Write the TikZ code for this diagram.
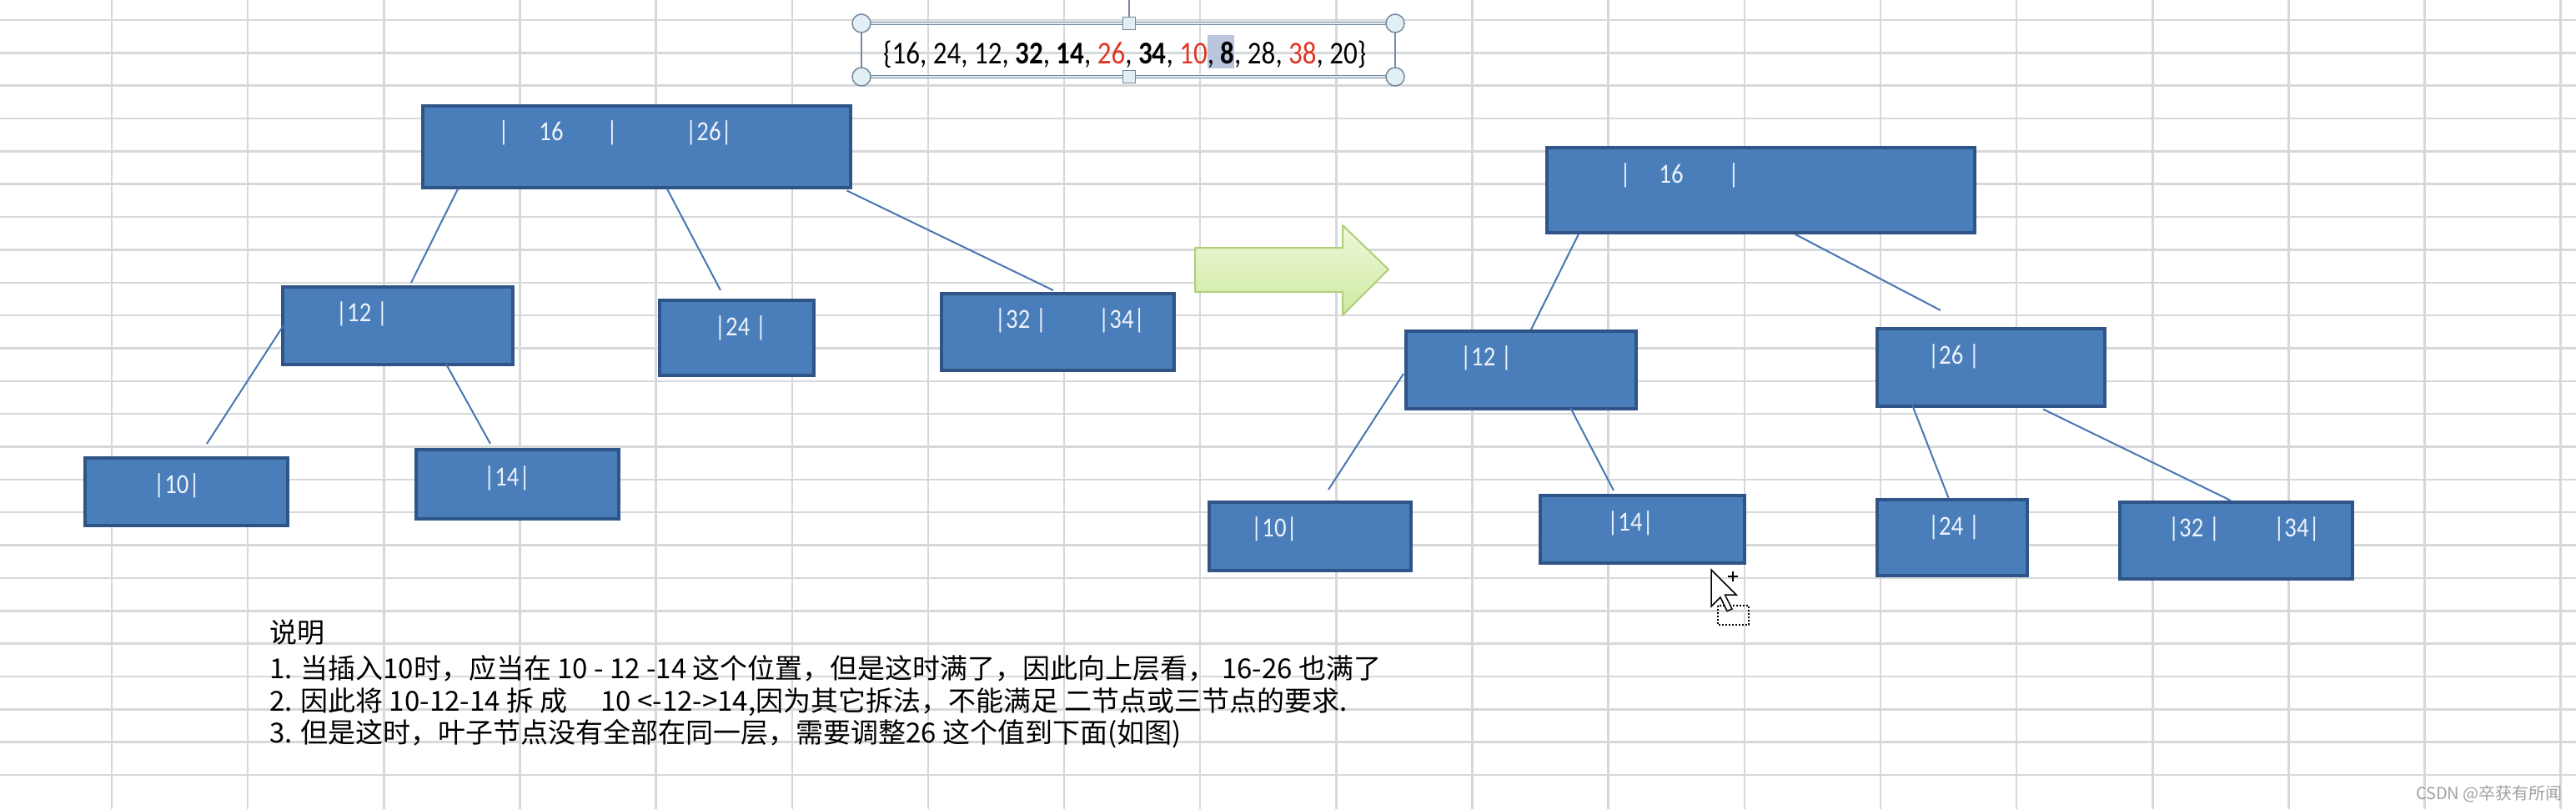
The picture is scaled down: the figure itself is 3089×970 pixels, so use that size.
\documentclass[tikz,border=0pt]{standalone}
\usepackage{fontspec}
\setmainfont{Carlito}[FakeStretch=0.87]
\newfontfamily\cjk{Noto Sans CJK SC}
\usetikzlibrary{calc}
\definecolor{gridc}{RGB}{214,216,220}
\definecolor{boxfill}{RGB}{74,126,187}
\definecolor{boxedge}{RGB}{47,84,135}
\definecolor{linkc}{RGB}{72,118,178}
\definecolor{boxtext}{RGB}{236,242,250}
\definecolor{redtxt}{RGB}{226,52,36}
\definecolor{hl}{RGB}{186,198,222}
\definecolor{framec}{RGB}{118,136,156}
\definecolor{handlec}{RGB}{226,240,246}
\definecolor{arrowtop}{RGB}{238,248,218}
\definecolor{arrowbot}{RGB}{206,233,160}
\definecolor{arrowedge}{RGB}{176,206,122}
\definecolor{wmc}{RGB}{160,160,160}
\begin{document}
\begin{tikzpicture}[x=1pt,y=-1pt,
  gridline/.style={draw=gridc, line width=2.5pt},
  treebox/.style={draw=boxedge, fill=boxfill, line width=3.5pt, inner sep=0pt, anchor=north west},
  boxlabel/.style={text=boxtext, font=\fontsize{33}{36}\selectfont, inner sep=0pt, anchor=base},
  link/.style={draw=linkc, line width=2pt},
  desc/.style={font=\cjk\fontsize{33}{38}\selectfont, inner sep=0pt, anchor=base west},
  handle/.style={draw=framec, fill=handlec, line width=1.5pt}
]
\useasboundingbox (0,0) rectangle (3089,970);
\fill[white] (0,0) rectangle (3089,970);
% spreadsheet grid
\foreach \i in {0,...,18} \draw[gridline] ({134+163.15*\i},0) -- ({134+163.15*\i},970);
\foreach \j in {-3,...,20} \draw[gridline] (0,{142+39.35*\j}) -- (3089,{142+39.35*\j});

% top text box (selected)
\draw[framec, line width=1.5pt] (1033,28) -- (1033,92) (1673,28) -- (1673,92);
\draw[framec, line width=1.2pt, double=handlec, double distance=2.5pt] (1033,28) -- (1673,28);
\draw[framec, line width=1.2pt, double=handlec, double distance=2.5pt] (1033,92) -- (1673,92);
\draw[framec, line width=1.5pt] (1354,0) -- (1354,21);
\draw[handle] (1033,28) circle[radius=11pt];
\draw[handle] (1673,28) circle[radius=11pt];
\draw[handle] (1033,92) circle[radius=11pt];
\draw[handle] (1673,92) circle[radius=11pt];
\draw[handle] (1346.5,20.5) rectangle ++(15,15);
\draw[handle] (1346.5,84.5) rectangle ++(15,15);
\node[inner sep=0pt, anchor=base west, font=\fontsize{38}{40}\selectfont] (seq) at (1059,76)
  {\{16, 24, 12, \textbf{32}, \textbf{14}, {\color{redtxt}26}, \textbf{34}, {\color{redtxt}10}{\setlength{\fboxsep}{0pt}\colorbox{hl}{\rule[-6pt]{0pt}{40pt}, \textbf{8}}}, 28, {\color{redtxt}38}, 20\}};

% left tree
\node[treebox, minimum width=513pt, minimum height=98pt] (L1) at (505,125) {};
\node[treebox, minimum width=276pt, minimum height=93pt] (L12) at (337,342) {};
\node[treebox, minimum width=185pt, minimum height=90pt] (L24) at (789,358) {};
\node[treebox, minimum width=279pt, minimum height=92pt] (L3234) at (1127,350) {};
\node[treebox, minimum width=243pt, minimum height=81pt] (L10) at (100,547) {};
\node[treebox, minimum width=243pt, minimum height=83pt] (L14) at (497,537) {};

\node[boxlabel] (l1a) at (604,168) {|};
\node[boxlabel] (l1b) at (661,168) {16};
\node[boxlabel] (l1c) at (734,168) {|};
\node[boxlabel] (l1d) at (850,168) {|26|};
\node[boxlabel] (l12t) at (434,385) {|12 |};
\node[boxlabel] (l24t) at (888,402) {|24 |};
\node[boxlabel] (l32t) at (1224,393) {|32 |};
\node[boxlabel] (l34t) at (1345,393) {|34|};
\node[boxlabel] (l10t) at (212,591) {|10|};
\node[boxlabel] (l14t) at (608,582) {|14|};

\draw[link] ($(L1.south west)+(44,0)$) -- ($(L12.north west)+(156,-3)$);
\draw[link] ($(L1.south west)+(295,0)$) -- ($(L24.north west)+(75,-10)$);
\draw[link] ($(L1.south east)+(-6,2)$) -- ($(L3234.north west)+(136,-2)$);
\draw[link] ($(L12.north west)+(3,48)$) -- ($(L10.north west)+(148,-15)$);
\draw[link] ($(L12.south west)+(198,-2)$) -- ($(L14.north west)+(91,-5)$);

% block arrow
\shade[top color=arrowtop, bottom color=arrowbot, draw=arrowedge, line width=2pt, line join=round]
  (1433,297) -- (1610,297) -- (1610,270) -- (1665,323) -- (1610,378) -- (1610,350) -- (1433,350) -- cycle;

% right tree
\node[treebox, minimum width=513pt, minimum height=102pt] (R1) at (1853,175) {};
\node[treebox, minimum width=276pt, minimum height=93pt] (R12) at (1684,395) {};
\node[treebox, minimum width=273pt, minimum height=93pt] (R26) at (2249,392) {};
\node[treebox, minimum width=242pt, minimum height=82pt] (R10) at (1448,600) {};
\node[treebox, minimum width=245pt, minimum height=81pt] (R14) at (1845,592) {};
\node[treebox, minimum width=180pt, minimum height=91pt] (R24) at (2249,597) {};
\node[treebox, minimum width=279pt, minimum height=92pt] (R3234) at (2540,600) {};

\node[boxlabel] (r1a) at (1949,219) {|};
\node[boxlabel] (r1b) at (2004,219) {16};
\node[boxlabel] (r1c) at (2079,219) {|};
\node[boxlabel] (r12t) at (1782,438) {|12 |};
\node[boxlabel] (r26t) at (2343,436) {|26 |};
\node[boxlabel] (r10t) at (1528,643) {|10|};
\node[boxlabel] (r14t) at (1955,636) {|14|};
\node[boxlabel] (r24t) at (2343,641) {|24 |};
\node[boxlabel] (r32t) at (2631,643) {|32 |};
\node[boxlabel] (r34t) at (2754,643) {|34|};

\draw[link] ($(R1.south west)+(40,0)$) -- ($(R12.north west)+(152,0)$);
\draw[link] ($(R1.south west)+(299,0)$) -- ($(R26.north west)+(78,-20)$);
\draw[link] ($(R12.north west)+(-1,53)$) -- ($(R10.north west)+(145,-13)$);
\draw[link] ($(R12.south west)+(199,-3)$) -- ($(R14.north west)+(90,-4)$);
\draw[link] ($(R26.south west)+(44,-3)$) -- ($(R24.north west)+(88,1)$);
\draw[link] ($(R26.south west)+(201,2)$) -- ($(R3234.north west)+(135,0)$);

% mouse cursor
\draw[black, dotted, line width=2pt] (2060,726) rectangle (2097,749);
\draw[fill=white, draw=black, line width=1.5pt, line join=miter]
  (2052,683) -- ++(0,44) -- ++(11,-11) -- ++(8,16.5) -- ++(6,-2.5) -- ++(-8.5,-17) -- ++(13.5,0) -- cycle;
\draw[black, line width=2pt] (2072,691) -- (2084,691) (2078,685) -- (2078,697);

% description
\node[desc] (d0) at (323,770) {说明};
\node[desc] (d1) at (323,813) {1. 当插入10时，应当在 10 - 12 -14 这个位置，但是这时满了，因此向上层看， 16-26 也满了};
\node[desc] (d2) at (323,852) {2. 因此将 10-12-14 拆 成\hspace{40pt}10 <-12->14,因为其它拆法，不能满足 二节点或三节点的要求.};
\node[desc] (d3) at (323,890) {3. 但是这时，叶子节点没有全部在同一层，需要调整26 这个值到下面(如图)};

% watermark
\node[font=\cjk\fontsize{20}{22}\selectfont, text=wmc, anchor=base east, inner sep=0pt] (wm) at (3073,958) {CSDN @卒获有所闻};
\end{tikzpicture}
\end{document}
